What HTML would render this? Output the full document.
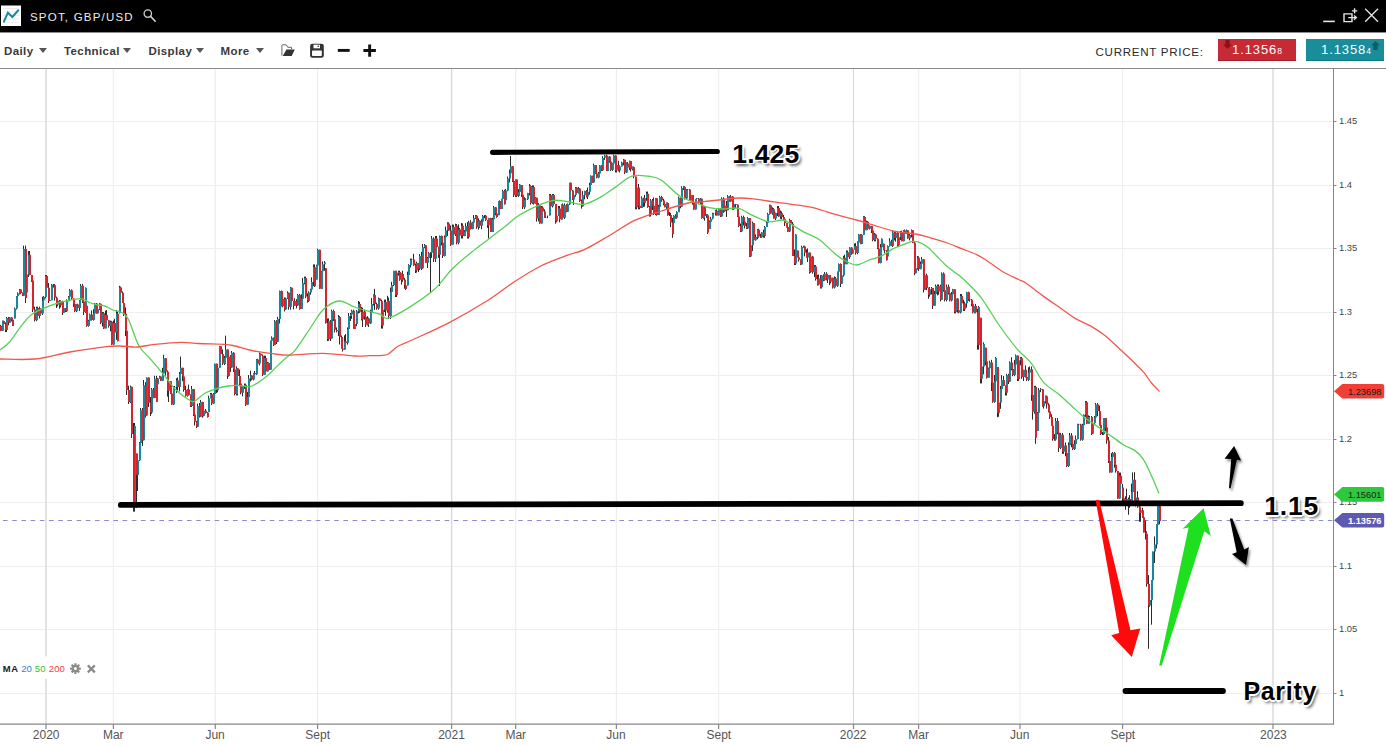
<!DOCTYPE html>
<html><head><meta charset="utf-8"><title>SPOT, GBP/USD</title>
<style>
html,body{margin:0;padding:0;background:#fff;}
body{width:1386px;height:746px;overflow:hidden;position:relative;font-family:"Liberation Sans",Arial,sans-serif;}
#top{position:absolute;left:0;top:0;width:1386px;height:32px;background:#000;}
#title{position:absolute;left:30px;top:9.6px;font-size:11.5px;letter-spacing:1.2px;color:#ececec;line-height:14px;white-space:nowrap;}
#tb{position:absolute;left:0;top:32px;width:1386px;height:35px;background:#fff;border-top:1px solid #8c8c8c;border-bottom:1px solid #8a8a8a;}
.mi{position:absolute;top:11px;font-size:11.5px;letter-spacing:0.4px;font-weight:bold;color:#3a3a3a;line-height:14px;white-space:nowrap;}
.tri{position:absolute;top:15px;width:0;height:0;border-left:4.5px solid transparent;border-right:4.5px solid transparent;border-top:5.5px solid #555;}
#cp{position:absolute;left:1095.5px;top:11.6px;font-size:11.6px;letter-spacing:0.7px;color:#2a2a2a;line-height:14px;white-space:nowrap;}
.pbox{position:absolute;top:6px;width:78px;height:22px;color:#fff;font-size:13px;letter-spacing:0.9px;line-height:22px;white-space:nowrap;}
.pbox small{font-size:8.5px;letter-spacing:0;}
#chart{position:absolute;left:0;top:0;}
</style></head><body>
<div id="top">
<svg width="1386" height="32" style="position:absolute;left:0;top:0">
<rect x="1" y="5.5" width="20" height="20.5" fill="#fff"/>
<g stroke="#ececec" stroke-width="1"><path d="M3 8.5H19M3 12H19M3 15.5H19M3 19H19M3 22.5H19"/></g>
<path d="M3.9 21.7L7.9 12.7L12.4 17L18.2 10.3" stroke="#16899a" stroke-width="2" fill="none" stroke-linecap="round" stroke-linejoin="miter"/>
<circle cx="147.8" cy="13.6" r="3.7" stroke="#d0d0d0" stroke-width="1.3" fill="none"/>
<path d="M150.6 16.4L155.2 21.2" stroke="#d0d0d0" stroke-width="1.6" stroke-linecap="round"/>
<path d="M1323.2 21.4H1334.8" stroke="#e6e6e6" stroke-width="1.6"/>
<path d="M1344 13.9H1352V21.6H1344Z" stroke="#e6e6e6" stroke-width="1.4" fill="none"/>
<path d="M1348.3 17.6H1356.2M1354 15.4L1356.4 17.6L1354 19.8" stroke="#e6e6e6" stroke-width="1.3" fill="none"/>
<path d="M1354.6 8.2V13.6M1351.9 10.9H1357.3" stroke="#e6e6e6" stroke-width="1.4"/>
<path d="M1365.2 8.7L1378 21.8M1378 8.7L1365.2 21.8" stroke="#e6e6e6" stroke-width="1.3"/>
</svg>
<div id="title">SPOT, GBP/USD</div>
</div>
<div id="tb">
<div class="mi" style="left:4px">Daily</div><div class="tri" style="left:38.5px"></div>
<div class="mi" style="left:64px">Technical</div><div class="tri" style="left:123.3px"></div>
<div class="mi" style="left:148.5px">Display</div><div class="tri" style="left:195.7px"></div>
<div class="mi" style="left:220.6px">More</div><div class="tri" style="left:255.5px"></div>
<svg width="110" height="36" style="position:absolute;left:275px;top:-1px">
<path d="M62.8 18.4H74.7" stroke="#111" stroke-width="2.9"/>
<path d="M88.4 18.5H100.9M94.65 12.5V24.8" stroke="#111" stroke-width="2.9"/>
</svg>
<div id="cp">CURRENT PRICE:</div>
<div class="pbox" style="left:1218px;background:#c52a35;border-bottom:1px solid #a81d27;height:21px">
<svg width="12" height="12" style="position:absolute;left:4px;top:1px"><path d="M3.3 0H7.7V4.5H10L5.5 9L1 4.5H3.3Z" fill="#8f1018"/></svg>
<span style="position:absolute;left:14px;top:0">1.1356<small>8</small></span></div>
<div class="pbox" style="left:1306px;background:#188e9a;border-bottom:1px solid #0e7a85;height:21px">
<svg width="12" height="12" style="position:absolute;left:64px;top:1.5px"><path d="M3.3 9H7.7V4.5H10L5.5 0L1 4.5H3.3Z" fill="#0b5f69"/></svg>
<span style="position:absolute;left:15px;top:0">1.1358<small>4</small></span></div>
</div>
<svg id="chart" width="1386" height="746" style="position:absolute;left:0;top:0;pointer-events:none" font-family="Liberation Sans, Arial, sans-serif">
<defs><clipPath id="cp1"><rect x="0" y="69" width="1333" height="655"/></clipPath></defs>
<g clip-path="url(#cp1)">
<g stroke="#eeeeee" stroke-width="1">
<path d="M0 121.5H1333M0 185.5H1333M0 248.5H1333M0 312.5H1333M0 375.5H1333M0 439.5H1333M0 502.5H1333M0 566.5H1333M0 629.5H1333M0 693.5H1333"/>
</g>
<g stroke="#eeeeee" stroke-width="1.2">
<path d="M113.4 69V724M215.3 69V724M317.6 69V724M515.7 69V724M616.4 69V724M718.6 69V724M918.6 69V724M1020 69V724M1122.6 69V724"/>
</g>
<g stroke="#d8d8d8">
<path d="M46 69V724" stroke-width="1.8" stroke="#e0e0e0"/><path d="M451.6 69V724" stroke-width="1.3"/><path d="M853.5 69V724" stroke-width="1.1"/><path d="M1273 69V724" stroke-width="1.8" stroke="#e2e2e2"/>
</g>
<path d="M3 520.5H1333" stroke="#8d8bd0" stroke-width="1" stroke-dasharray="4.6,4.6"/>
<path d="M0.5 324.9V331M2.5 320.6V331M3.5 320.6V324.4M5.5 322.5V332M6.5 317V332M8.5 317V325.3M9.5 317V322.9M11.5 317.3V321.4M12.5 317.9V326M14.5 307.6V318.4M16.5 296V309.5M17.5 292.4V298M19.5 289V294.5M20.5 289V294.2M22.5 292.5V296M23.5 245.7V296.1M25.5 245.7V303M26.5 269.8V292.6M28.5 251V277M29.5 251V275.2M31.5 274.9V281.8M32.5 279V312M34.5 306.7V321.5M36.5 306.7V321.1M37.5 306.7V316.4M39.5 306.7V318.4M40.5 308.5V315M42.5 296.8V315M43.5 296V300.7M45.5 275V298.4M46.5 275V290.5M48.5 283V303M49.5 299.1V301.1M51.5 284V300.2M53.5 284V287.5M54.5 284V300.6M56.5 296.6V308M57.5 300.7V306.5M59.5 300V308.8M60.5 300.4V307.4M62.5 300.7V315M63.5 305.2V312.9M65.5 308V312M66.5 299.4V312M68.5 296V301.2M69.5 289V297.1M71.5 289.4V300M73.5 298.5V306.9M74.5 303.1V312M76.5 304.2V312M77.5 303.7V309.6M79.5 300V311M80.5 284V303M82.5 284V303M83.5 297V315M85.5 287.5V312.8M86.5 305.7V326.7M88.5 319.8V326.7M89.5 313.6V321.2M91.5 310.4V320.6M93.5 309.2V320.6M94.5 303V314M96.5 303V313.6M97.5 306.9V313.6M99.5 303V310.2M100.5 303.8V324M102.5 312V326.5M103.5 312.1V329M105.5 310.7V328.4M106.5 310V323.3M108.5 320.2V327.6M110.5 320.6V331.3M111.5 320.9V345M113.5 320.6V345M114.5 318.8V332.9M116.5 310V339.8M117.5 311.7V341.5M119.5 285.8V313.3M120.5 286.6V295.3M122.5 291.5V303M123.5 300V316M125.5 307.4V336M126.5 330.8V395M128.5 385.7V404M130.5 385.6V403.1M131.5 386.8V438M133.5 423V511.6M134.5 423V511.6M136.5 453.6V508M137.5 458.5V491M139.5 442V461M140.5 408V446M142.5 408V446M143.5 380V440.2M145.5 382.2V417.6M146.5 377.5V415.5M148.5 377.5V407M150.5 397V416M151.5 388V413.9M153.5 388V398.2M154.5 375.8V398.2M156.5 375.8V402M157.5 377.9V384.1M159.5 375.8V378.7M160.5 376.5V381M162.5 367.8V380.8M163.5 354.8V375.9M165.5 358.3V375.6M167.5 370.5V396.6M168.5 376.5V402M170.5 381.3V394M171.5 390V405M173.5 386V405M174.5 386V389.2M176.5 378.3V393M177.5 377.4V390.5M179.5 372V391.4M180.5 356.6V377.5M182.5 367.8V381.2M183.5 375.8V391.7M185.5 385.8V396.7M187.5 388.9V396.7M188.5 384.6V395.2M190.5 394.4V407M191.5 386V407M193.5 389V416M194.5 410.8V425.5M196.5 420.9V428M197.5 403.6V426.8M199.5 403V417.6M200.5 400V417M202.5 401.7V417.6M203.5 410.2V416.4M205.5 409V413.6M207.5 412.2V417.6M208.5 395.7V412.2M210.5 393V398.3M211.5 393V405M213.5 393V403.9M214.5 363.6V394M216.5 363.6V393M217.5 366.7V392.3M219.5 346V367.8M220.5 346V355M222.5 349.4V365M224.5 355.9V365M225.5 335.7V363.6M227.5 349.4V379M228.5 354.8V376.7M230.5 355.2V371.9M231.5 351V367.7M233.5 352.2V372M234.5 366.4V395.4M236.5 366.4V395.4M237.5 368.3V395.4M239.5 369.6V386.3M240.5 382.8V394.3M242.5 385.8V396.3M244.5 383.6V388.8M245.5 383.6V406M247.5 391.9V404.7M248.5 375V399.6M250.5 370.7V381.4M251.5 375.1V380.4M253.5 372.9V380.4M254.5 371V375M256.5 359V375M257.5 358.8V365.4M259.5 352.5V365.4M260.5 353.7V356.2M262.5 354.6V376M264.5 355.7V374.7M265.5 355.7V371.8M267.5 362V371.4M268.5 362.4V370.7M270.5 340.7V369.8M271.5 336.4V341.4M273.5 337.6V346M274.5 320V345.1M276.5 320.1V344M277.5 316.9V341.9M279.5 290.5V323.6M281.5 290.5V306.3M282.5 297.5V307.4M284.5 297.5V311.5M285.5 297.5V309.7M287.5 291.3V299M288.5 292.6V309.7M290.5 287V309.7M291.5 287.7V304.3M293.5 300.9V309.3M294.5 298.3V305.8M296.5 299.2V308.4M297.5 294V305.9M299.5 294V309.7M301.5 294.3V308.9M302.5 277.9V302M304.5 276.6V284.3M305.5 276.6V298.1M307.5 293.3V302.7M308.5 291.3V302M310.5 288.8V294.7M311.5 277.3V289.5M313.5 264.4V286.1M314.5 264.4V287M316.5 264.7V279.6M317.5 248.7V265.5M319.5 249.7V289M321.5 270.8V289M322.5 261.6V277M324.5 261V270.8M325.5 268.2V323.6M327.5 318.5V341M328.5 318.4V340.8M330.5 320V341M331.5 309.7V338.4M333.5 309.7V321M334.5 313.7V332.4M336.5 327.4V332.4M338.5 315V336.2M339.5 316.1V344.5M341.5 335.5V348.6M342.5 344.1V351.5M344.5 335.3V349.7M345.5 334.1V344.6M347.5 327.4V344.6M348.5 313V335.3M350.5 313V321M351.5 309.7V318.9M353.5 309.7V329M354.5 322.1V329M356.5 310.1V326.2M358.5 301V313.5M359.5 301.8V312.9M361.5 307V320.4M362.5 307.7V327M364.5 309.7V319.7M365.5 316V327M367.5 316.2V325.5M368.5 317.6V327M370.5 309.7V324M371.5 298.1V318.4M373.5 294.3V305.5M374.5 288.8V309.9M376.5 302.6V309.7M378.5 297.5V309.7M379.5 298.6V302.7M381.5 299.6V328.6M382.5 304.8V328.6M384.5 299.6V312M385.5 299.6V315.8M387.5 295.8V312.6M388.5 297.5V319M390.5 287.6V319M391.5 281.8V297M393.5 270.7V286.1M395.5 270.7V297M396.5 270.7V297M398.5 270.7V275.7M399.5 270.7V280.8M401.5 273.4V284.6M402.5 270.7V281.8M404.5 277.8V288.7M405.5 284.3V290M407.5 271.6V285.6M408.5 264.2V275.5M410.5 258.6V267.5M411.5 258.6V263.1M413.5 253.8V265.8M415.5 263.5V273M416.5 261.7V272.6M418.5 262.9V272.1M419.5 254.1V270M421.5 251.9V270M422.5 244V268.7M424.5 244V248.2M425.5 245.3V262.8M427.5 257V268M428.5 252V258.6M430.5 252V292.8M431.5 236V257.9M433.5 237.3V262M435.5 236V262M436.5 236V248.7M438.5 246.6V257.8M439.5 235.5V286M441.5 235.5V245.4M442.5 239V258M444.5 235.5V256.5M445.5 226.5V237.5M447.5 222.3V236M448.5 222.3V230.8M450.5 225.5V245.9M452.5 224.5V244.7M453.5 224.7V236.7M455.5 223.7V236M456.5 224V244.4M458.5 224.4V244.4M459.5 227.9V238.6M461.5 223V238.5M462.5 223.4V238.5M464.5 230.1V236.2M465.5 223.2V234.9M467.5 222.1V238.5M468.5 220.8V238.5M470.5 220.2V229.6M472.5 221.8V229.3M473.5 215V224.8M475.5 215V219M476.5 215V228.8M478.5 218.3V229.6M479.5 220.5V227.9M481.5 219.3V229.2M482.5 215V222.9M484.5 215V218.2M485.5 215V220.9M487.5 220.1V227.8M488.5 217.8V238.5M490.5 217.8V232M492.5 217.8V232M493.5 206V219.3M495.5 207V215.3M496.5 210.6V217.8M498.5 201.1V215.2M499.5 200.3V209M501.5 198.7V209M502.5 189.8V201.5M504.5 189.8V204.6M505.5 188.9V200.2M507.5 176.5V191.3M509.5 169.6V182.4M510.5 155.9V177M512.5 166V182M513.5 179.5V197M515.5 179.5V197M516.5 179.5V197M518.5 189.1V197M519.5 184V194.6M521.5 185V196.9M522.5 194V209M524.5 197.2V209M525.5 198.2V200.2M527.5 192.8V200M529.5 184V195.5M530.5 185.4V204.6M532.5 185.4V203.9M533.5 185.4V204.6M535.5 197.1V203.8M536.5 197.8V221.6M538.5 203V221.4M539.5 205.3V223.7M541.5 206V223.6M542.5 206.3V214.3M544.5 209.3V217.8M545.5 216.3V217.9M547.5 215.6V218.2M549.5 194V215.6M550.5 194V207.5M552.5 194V207.5M553.5 194V205.5M555.5 204.1V223.7M556.5 215.5V222.3M558.5 206V215.9M559.5 206V222.3M561.5 204.5V219.6M562.5 203.4V219.6M564.5 203.4V219.1M566.5 204.2V212.3M567.5 203.4V211.8M569.5 182.8V205M570.5 182.8V193.7M572.5 190V200M573.5 192.6V205M575.5 187V196.7M576.5 187V193.3M578.5 187V193.6M579.5 188V202M581.5 199.5V208.6M582.5 191V206.8M584.5 190.7V199.4M586.5 190V197.4M587.5 187.6V199M589.5 182.8V194.6M590.5 175.4V185M592.5 175.8V182.8M593.5 163.6V182.8M595.5 165V174.1M596.5 171.1V178.3M598.5 172V178.3M599.5 165V176M601.5 165.1V171M602.5 156.2V171M604.5 154.7V159.9M606.5 154.7V171M607.5 156V171M609.5 156V162.8M610.5 159.7V171M612.5 162.9V171M613.5 154.7V165M615.5 155.3V172.4M616.5 162.7V172.4M618.5 160.8V171.4M619.5 166.3V172.4M621.5 161.7V166.4M623.5 159V165.3M624.5 159.7V174M626.5 162.4V173M627.5 162V167.9M629.5 160.6V170M630.5 160.9V171.6M632.5 166.5V170.4M633.5 166.5V178.3M635.5 176.6V209.3M636.5 184V209.3M638.5 184V209.3M639.5 201.7V209.3M641.5 196.4V208M643.5 197.6V207M644.5 194.9V206.6M646.5 191.6V200.8M647.5 191.6V207.8M649.5 206V216.7M650.5 199.1V216.4M652.5 199V210M653.5 197.5V215M655.5 198V215.1M656.5 198V215.7M658.5 204.8V215.1M659.5 195.8V208.3M661.5 195.8V201.8M663.5 198.8V205.3M664.5 202.3V207.3M666.5 202.4V208.9M667.5 202.4V215.7M669.5 212.1V216M670.5 212.8V227.1M672.5 217.9V237.8M673.5 215.2V223.1M675.5 214.3V218.7M676.5 211.3V218.7M678.5 196.5V212.1M680.5 197.7V208.3M681.5 186.2V206.8M683.5 186.2V190.1M684.5 186.2V199.5M686.5 189V199.7M687.5 189V191.9M689.5 189V201M690.5 194.8V201M692.5 195.1V204.6M693.5 200.9V209.8M695.5 198.9V209.6M696.5 198V201.2M698.5 198V204.1M700.5 198V204.3M701.5 198.7V218.7M703.5 205.4V218.7M704.5 206.1V220.7M706.5 214.2V217.9M707.5 214.2V234M709.5 220.4V229.1M710.5 216.9V223M712.5 212.8V219.4M713.5 212.8V214.8M715.5 209.9V215.5M716.5 209.3V215.5M718.5 208.3V215.5M720.5 208.3V217M721.5 197.3V216.6M723.5 197.3V212.8M724.5 205V211.9M726.5 201V217M727.5 195V210.2M729.5 196V201.5M730.5 195V202.1M732.5 196.2V209.8M733.5 202.2V209.8M735.5 203.9V208M737.5 204.5V217M738.5 215.7V227.2M740.5 223.5V232M741.5 215.7V232M743.5 215.7V225.4M744.5 220.3V228.4M746.5 223.1V229M747.5 217V229M749.5 218V257M750.5 242.1V257M752.5 221.6V251.1M753.5 222.9V240.8M755.5 234.4V240.6M757.5 229V239.2M758.5 228.7V237.8M760.5 233.7V237.8M761.5 232V237.8M763.5 229.7V237.6M764.5 226V237.8M766.5 221.3V227.1M767.5 212.8V224.1M769.5 204.7V214.7M770.5 204.7V213.9M772.5 207.3V214.8M773.5 208.1V218.7M775.5 212.6V220M777.5 206V216.1M778.5 206V216.9M780.5 210.5V218.8M781.5 211.4V219.4M783.5 214.9V220M784.5 218.9V226M786.5 222.8V227.5M787.5 225.9V232M789.5 218.7V232M790.5 220V227.4M792.5 222V256M794.5 249.4V265M795.5 234V265M797.5 250.6V257.4M798.5 256V261.6M800.5 259.5V265M801.5 245.7V264.6M803.5 245.7V247.7M804.5 245.7V256.3M806.5 249.4V257.5M807.5 248.5V262M809.5 252.5V273.7M810.5 256V272.9M812.5 256V273.7M814.5 265V277.1M815.5 265V280.6M817.5 274.9V285.5M818.5 274.5V285.3M820.5 275.2V288.5M821.5 275V288.5M823.5 274.3V281.2M824.5 272V280.8M826.5 272.2V280.4M827.5 275V283M829.5 275V285.1M830.5 277.3V283.4M832.5 277.7V288.5M834.5 276.4V288.5M835.5 277.1V286.5M837.5 271.6V287M838.5 263.4V276.8M840.5 263.4V287M841.5 274.6V283.7M843.5 255.9V276.7M844.5 254.6V267.4M846.5 250.4V264.3M847.5 250.7V259M849.5 247.2V259M851.5 247.2V254.8M852.5 249.2V253.6M854.5 243.5V249.5M855.5 243.1V254.6M857.5 241.3V254.3M858.5 234V244.2M860.5 234V244.2M861.5 234V244.2M863.5 216.2V234.8M864.5 216.2V232.4M866.5 220.6V230.2M867.5 221V229.5M869.5 225.4V229.5M871.5 226V233M872.5 229.1V241.3M874.5 232.9V241.3M875.5 233.7V241.3M877.5 238.3V249.1M878.5 245V263.4M880.5 244.1V263.4M881.5 238.3V250.9M883.5 243.7V250.3M884.5 250V253.1M886.5 250V260.5M887.5 245.4V256.6M889.5 238.2V246.6M891.5 239.8V246.1M892.5 231V247M894.5 231V240.4M895.5 231V241.6M897.5 231.7V247M898.5 234.5V247M900.5 231V240.1M901.5 230.7V241.3M903.5 230.1V241.3M904.5 229.5V234.5M906.5 229.5V234.1M907.5 230.2V238.7M909.5 234V240.4M911.5 229.5V237.4M912.5 230.2V242.9M914.5 241.4V275.2M915.5 268.1V273.3M917.5 256V269.7M918.5 256.4V271M920.5 261.5V269.4M921.5 257.1V264M923.5 259.3V292.4M924.5 273.7V290.1M926.5 273.7V290M928.5 287.6V298.8M929.5 287V296.6M931.5 287V294.5M932.5 287.9V309M934.5 290.8V305.7M935.5 284.5V295.6M937.5 284.5V295.4M938.5 284.5V294.7M940.5 284.7V301.4M941.5 272.4V299.8M943.5 272.4V291.7M944.5 289.3V301.4M946.5 284.5V301.4M948.5 284.5V294.6M949.5 292V301.4M951.5 292V301.4M952.5 288.9V295.1M954.5 289.2V313.4M955.5 296.4V313.4M957.5 298.2V312.6M958.5 309.5V313.4M960.5 294V313.4M961.5 294V306.5M963.5 299.8V311M964.5 301.7V311M966.5 291.7V307.6M968.5 291.7V300.8M969.5 299V301.7M971.5 299V306.3M972.5 302.3V313.4M974.5 306V313.4M975.5 304V313.4M977.5 308.7V349.7M978.5 306V349.7M980.5 317.8V383.4M981.5 359.7V383.4M983.5 342.4V374.3M985.5 347.7V365.3M986.5 359.3V378.6M988.5 367.6V377.8M989.5 360.7V373M991.5 359.8V391.1M992.5 381.7V402.8M994.5 375V402.8M995.5 357V389.8M997.5 367.1V417.2M998.5 394.9V416.8M1000.5 385.9V408.8M1001.5 375.1V389.5M1003.5 376V386.2M1005.5 385.5V395.5M1006.5 373.8V395.5M1008.5 373.8V384M1009.5 361.3V381.6M1011.5 357.2V370.3M1012.5 364.4V376.2M1014.5 359.9V376.2M1015.5 354.5V369.2M1017.5 355.6V381M1018.5 357V381M1020.5 357.1V365.4M1021.5 357V378.8M1023.5 369.8V381M1025.5 365.4V377.6M1026.5 375V381M1028.5 367.3V381M1029.5 366.5V379.3M1031.5 366.5V400.8M1032.5 390.8V419.6M1034.5 385.9V413.7M1035.5 385.9V443.8M1037.5 412V430.9M1038.5 388V414.2M1040.5 388V392.2M1042.5 388.9V406.6M1043.5 399.5V408.6M1045.5 395.5V403.5M1046.5 395.5V408.6M1048.5 403.1V412.4M1049.5 407V418.9M1051.5 414.2V425.7M1052.5 424.2V440.7M1054.5 434.1V440.7M1055.5 418V440.7M1057.5 418V434.3M1058.5 423.8V452M1060.5 433V449.1M1062.5 433V453.8M1063.5 442.4V453.8M1065.5 442.5V456.3M1066.5 447.4V467M1068.5 442.5V467M1069.5 433V447.4M1071.5 433.1V447.3M1072.5 441.1V450M1074.5 440.3V450M1075.5 435.5V444.6M1077.5 423.8V439.4M1078.5 423.8V425.6M1080.5 423.8V440.7M1082.5 423.8V440.7M1083.5 414.4V427.5M1085.5 401V416.9M1086.5 401.1V423.8M1088.5 415.3V423.8M1089.5 416V420.9M1091.5 416V435M1092.5 421.3V434M1094.5 416V424.4M1095.5 403V422.1M1097.5 403V416.2M1099.5 405.5V425.7M1100.5 424.7V435M1102.5 431.9V435.1M1103.5 418V435M1105.5 418V431M1106.5 427.4V443.7M1108.5 437V463M1109.5 457.5V472.6M1111.5 453.1V472.6M1112.5 452V457.5M1114.5 452V467.7M1115.5 461.1V472.6M1117.5 471V498.8M1119.5 472.6V498.8M1120.5 472.6V483.7M1122.5 483.9V502.7M1123.5 491.2V503.3M1125.5 496.3V509.7M1126.5 488.7V505.2M1128.5 497.6V514.8M1129.5 495.1V507.8M1131.5 483.6V502.7M1132.5 472.4V492.5M1134.5 472.2V505.2M1135.5 495.1V506.5M1137.5 491.2V507.8M1139.5 505.2V521.7M1140.5 507.8V521.7M1142.5 507.8V517.9M1143.5 514.1V532.5M1145.5 520.5V539.5M1146.5 531.3V586.6M1148.5 575.1V648.8M1149.5 586.6V606.9M1151.5 580.2V624.7M1152.5 551.6V586.6M1154.5 536.4V563M1156.5 524.3V548.4M1157.5 503.2V530.6M1159.5 504V524.3" stroke="#2b2b2b" stroke-width="1" fill="none"/>
<path d="M2 321h2v9.7h-2zM6 318.1h2v12h-2zM9 317.5h2v5.2h-2zM14 308.6h2v9.8h-2zM16 296.3h2v12.3h-2zM17 293.6h2v2.7h-2zM19 289.5h2v4.1h-2zM23 249.1h2v46.7h-2zM26 274.4h2v18.2h-2zM28 254.8h2v19.6h-2zM36 307.9h2v12.3h-2zM39 308.6h2v7.5h-2zM42 300.4h2v13.2h-2zM43 296.9h2v3.4h-2zM45 276.1h2v20.8h-2zM49 300.1h2v0.8h-2zM51 284.8h2v15.4h-2zM57 300.8h2v4h-2zM60 301.2h2v4.1h-2zM63 308.1h2v4.8h-2zM66 301.2h2v10h-2zM68 296.8h2v4.5h-2zM69 290.2h2v6.5h-2zM76 304.5h2v6.7h-2zM79 300.3h2v7.8h-2zM80 285.8h2v14.5h-2zM85 287.7h2v24.2h-2zM88 320.7h2v5.4h-2zM89 314.4h2v6.3h-2zM93 313.6h2v6.5h-2zM94 303.4h2v10.2h-2zM97 309.3h2v3.9h-2zM99 303.8h2v5.4h-2zM102 313.3h2v9.5h-2zM105 314.9h2v13.5h-2zM110 321.8h2v4.2h-2zM113 323.1h2v21.5h-2zM116 313.7h2v18.9h-2zM119 287.6h2v25.7h-2zM130 386.8h2v15.4h-2zM134 425.9h2v81.5h-2zM137 460.3h2v14.7h-2zM139 443h2v17.2h-2zM140 410.2h2v32.8h-2zM143 385.3h2v54.9h-2zM146 377.5h2v38h-2zM151 389.6h2v23h-2zM154 378.8h2v19.2h-2zM157 378.4h2v5.8h-2zM159 376.5h2v1.8h-2zM162 373.5h2v7.3h-2zM163 358.3h2v15.3h-2zM168 381.3h2v9.4h-2zM173 387.6h2v16.9h-2zM174 386.9h2v0.6h-2zM176 380.6h2v6.3h-2zM179 374.1h2v12.9h-2zM180 367.8h2v6.3h-2zM187 389.4h2v6.3h-2zM191 388.9h2v17.1h-2zM197 406h2v20.8h-2zM200 402.1h2v14.6h-2zM203 410.4h2v5.7h-2zM208 398.2h2v14h-2zM210 394.3h2v3.9h-2zM213 394h2v9.4h-2zM214 363.7h2v30.3h-2zM217 367.8h2v22.5h-2zM219 346.3h2v21.5h-2zM224 357.8h2v5.7h-2zM225 349.4h2v8.4h-2zM228 356.7h2v19.2h-2zM231 352.8h2v14.7h-2zM236 368.3h2v25.8h-2zM242 386h2v6.7h-2zM244 384.7h2v1.3h-2zM247 396.9h2v7.8h-2zM248 378.6h2v18.3h-2zM250 375.4h2v3.2h-2zM253 373.1h2v6.5h-2zM256 359.4h2v14.8h-2zM259 353.7h2v9.9h-2zM264 358.1h2v16.6h-2zM267 363.1h2v8.3h-2zM270 340.8h2v29h-2zM271 337.7h2v3.1h-2zM274 321.3h2v23.8h-2zM277 318.9h2v22.9h-2zM279 291h2v28h-2zM282 298.9h2v7.3h-2zM285 298.6h2v10.9h-2zM287 292.7h2v5.9h-2zM290 287.7h2v19.4h-2zM294 301.1h2v4.7h-2zM297 295.1h2v10.4h-2zM301 298.8h2v10.1h-2zM302 282.9h2v15.9h-2zM304 277.9h2v5h-2zM308 292.4h2v8.7h-2zM310 289.5h2v2.9h-2zM311 282h2v7.5h-2zM313 267.3h2v14.7h-2zM316 265.4h2v14.2h-2zM317 249.7h2v15.7h-2zM321 271.3h2v17.6h-2zM322 264.2h2v7.1h-2zM324 262.4h2v1.8h-2zM328 321.2h2v18h-2zM331 311.1h2v27.3h-2zM338 316.9h2v14.4h-2zM344 341.6h2v8.1h-2zM347 329h2v14h-2zM348 316h2v13h-2zM350 314.6h2v1.4h-2zM351 310.7h2v3.9h-2zM354 324h2v4.9h-2zM356 311.2h2v12.7h-2zM358 303.9h2v7.3h-2zM362 311.5h2v7.8h-2zM367 318.4h2v6.4h-2zM370 312.9h2v10.7h-2zM371 304h2v8.9h-2zM373 295.1h2v8.9h-2zM378 298.6h2v9.9h-2zM382 309.7h2v15.7h-2zM384 301.9h2v7.8h-2zM387 300.7h2v9.9h-2zM390 292h2v24.1h-2zM391 285h2v7h-2zM393 270.9h2v14.1h-2zM396 272.8h2v22.1h-2zM398 272h2v0.8h-2zM401 274h2v5.8h-2zM407 274.9h2v10.7h-2zM408 265.1h2v9.8h-2zM410 260.1h2v5.1h-2zM411 259.4h2v0.6h-2zM416 262.9h2v7.7h-2zM419 256.1h2v12.6h-2zM422 247.3h2v21h-2zM424 245.3h2v2h-2zM427 258h2v4.8h-2zM428 253.2h2v4.8h-2zM430 252.8h2v0.4h-2zM431 238.6h2v14.2h-2zM435 238.5h2v20.2h-2zM439 236h2v18.8h-2zM444 237.3h2v18.8h-2zM445 230.2h2v7.1h-2zM447 223.5h2v6.7h-2zM452 226.9h2v17.8h-2zM455 225.4h2v9.1h-2zM458 229.4h2v13.4h-2zM461 225.8h2v9.8h-2zM464 231.4h2v4.7h-2zM465 226.1h2v5.3h-2zM468 222.6h2v14.4h-2zM472 222.4h2v6.7h-2zM473 218.1h2v4.4h-2zM475 215.7h2v2.3h-2zM478 220.7h2v6.6h-2zM481 221.4h2v4.4h-2zM482 216h2v5.5h-2zM484 215.7h2v0.2h-2zM488 218.1h2v7.2h-2zM492 219.3h2v12.7h-2zM493 207.3h2v12h-2zM498 201.1h2v14.1h-2zM501 199h2v9.9h-2zM502 191.1h2v7.9h-2zM505 190.4h2v9.8h-2zM507 178.6h2v11.8h-2zM509 173.3h2v5.3h-2zM510 166.3h2v7h-2zM515 179.5h2v15.7h-2zM518 192h2v3.9h-2zM519 184.5h2v7.4h-2zM524 199.5h2v7.7h-2zM525 199.2h2v0.3h-2zM527 193.1h2v6.1h-2zM529 185.9h2v7.3h-2zM532 187.1h2v15.9h-2zM535 197.8h2v5.8h-2zM538 205.4h2v12.9h-2zM541 207.5h2v16.1h-2zM549 195.1h2v20.5h-2zM552 195.1h2v11.1h-2zM556 215.7h2v5.5h-2zM558 208.4h2v7.3h-2zM561 204.7h2v14.5h-2zM564 205.2h2v12.5h-2zM567 204.2h2v7.6h-2zM569 182.8h2v21.4h-2zM573 194.9h2v4.5h-2zM575 187.8h2v7.2h-2zM578 188.6h2v4.5h-2zM582 195.2h2v11h-2zM584 190.9h2v4.3h-2zM587 191.7h2v4.9h-2zM589 185h2v6.7h-2zM590 175.8h2v9.2h-2zM593 165.1h2v17.3h-2zM598 173.6h2v4h-2zM599 165.4h2v8.2h-2zM602 157.9h2v12.3h-2zM604 155.5h2v2.3h-2zM607 156.4h2v14.5h-2zM612 163.3h2v6.5h-2zM613 155.6h2v7.8h-2zM616 165.1h2v5.3h-2zM619 166.4h2v4h-2zM621 162.4h2v4h-2zM623 159.7h2v2.7h-2zM626 163.4h2v9.2h-2zM629 160.9h2v6.6h-2zM632 167.1h2v2.1h-2zM636 187.5h2v19.7h-2zM641 198.2h2v9.8h-2zM644 198.2h2v4.9h-2zM646 193.7h2v4.4h-2zM650 200.4h2v14.6h-2zM655 198.3h2v15.4h-2zM658 206.7h2v8.3h-2zM659 197.1h2v9.6h-2zM666 202.9h2v4.4h-2zM669 215h2v0.1h-2zM673 215.8h2v7.3h-2zM676 212.1h2v5.6h-2zM678 197.8h2v14.4h-2zM681 188.1h2v18.6h-2zM683 186.9h2v1.3h-2zM686 189.7h2v8.9h-2zM687 189.6h2v0.1h-2zM690 195.1h2v5.6h-2zM695 198.9h2v10.5h-2zM696 198.6h2v0.4h-2zM700 198.7h2v3.8h-2zM703 206.1h2v11.9h-2zM706 215.2h2v0.7h-2zM709 221.7h2v7.4h-2zM710 218.7h2v3.1h-2zM712 213.4h2v5.2h-2zM713 213.3h2v0.1h-2zM715 210.7h2v2.6h-2zM718 208.7h2v6.7h-2zM721 198.5h2v18.1h-2zM724 205.4h2v5.9h-2zM727 196.2h2v14.1h-2zM730 196.6h2v4.8h-2zM733 203.9h2v5.3h-2zM741 216.9h2v14.3h-2zM747 218h2v10.4h-2zM750 245.2h2v11.4h-2zM752 222.9h2v22.4h-2zM755 236.9h2v3.3h-2zM757 229.8h2v7.1h-2zM761 232.4h2v4.8h-2zM764 227.1h2v8.8h-2zM766 223.1h2v4h-2zM767 214.1h2v9h-2zM769 205.5h2v8.6h-2zM772 209.2h2v4.3h-2zM775 213h2v5.6h-2zM777 207.9h2v5.1h-2zM780 212.9h2v3.6h-2zM789 220h2v11.6h-2zM795 234.5h2v28.9h-2zM801 247h2v17.6h-2zM803 246.5h2v0.5h-2zM807 252.5h2v4.9h-2zM810 256.5h2v15.7h-2zM814 266.6h2v5.7h-2zM818 278.4h2v6.1h-2zM821 275.4h2v11.9h-2zM824 273.7h2v6.6h-2zM827 275.1h2v4.5h-2zM830 277.7h2v4.1h-2zM834 278.6h2v8.8h-2zM837 271.8h2v13.9h-2zM838 264.1h2v7.7h-2zM841 275.6h2v8.1h-2zM843 257.7h2v17.9h-2zM846 252.2h2v12.1h-2zM849 247.5h2v9.8h-2zM852 249.5h2v4h-2zM854 245.9h2v3.6h-2zM857 242.6h2v10.3h-2zM858 234.5h2v8.1h-2zM861 234.8h2v9.1h-2zM863 217h2v17.8h-2zM866 221.7h2v8.5h-2zM869 226h2v2.7h-2zM874 234.4h2v5.4h-2zM880 247.2h2v15.8h-2zM881 238.7h2v8.5h-2zM887 246.1h2v10.5h-2zM889 241.3h2v4.8h-2zM892 232.4h2v13.6h-2zM895 233.1h2v4.8h-2zM898 237.2h2v8h-2zM900 232.4h2v4.8h-2zM903 230.4h2v10.8h-2zM906 230.3h2v3.5h-2zM909 234.9h2v3.5h-2zM911 230.2h2v4.7h-2zM915 268.2h2v5.1h-2zM917 257.8h2v10.4h-2zM920 263.8h2v5.3h-2zM921 259.3h2v4.5h-2zM924 275.2h2v14.9h-2zM929 289.2h2v5.9h-2zM931 288.1h2v1.1h-2zM934 294.1h2v11.7h-2zM935 285.9h2v8.2h-2zM938 286.2h2v5.2h-2zM941 273.6h2v26.2h-2zM946 286.7h2v13.3h-2zM951 294.3h2v6.3h-2zM952 289.2h2v5.1h-2zM955 298.5h2v13.4h-2zM960 296h2v16.4h-2zM964 303.4h2v5.8h-2zM966 292.2h2v11.1h-2zM974 306h2v6.7h-2zM978 307h2v37.9h-2zM981 366.5h2v12.3h-2zM983 344h2v22.5h-2zM988 368.2h2v9.6h-2zM989 362.4h2v5.8h-2zM994 381.4h2v20.5h-2zM995 358h2v23.3h-2zM998 402.6h2v10.3h-2zM1000 388.9h2v13.7h-2zM1001 380h2v8.9h-2zM1006 375.1h2v17.6h-2zM1009 362.6h2v19.1h-2zM1014 364.4h2v10.7h-2zM1015 355.6h2v8.8h-2zM1018 360.2h2v18.7h-2zM1020 358.2h2v2h-2zM1023 369.8h2v7.2h-2zM1028 372.6h2v7.2h-2zM1029 369.2h2v3.4h-2zM1034 386.9h2v24.8h-2zM1037 412.8h2v18.1h-2zM1038 390.1h2v22.6h-2zM1040 389.3h2v0.8h-2zM1043 401.2h2v5.1h-2zM1045 396.3h2v4.9h-2zM1055 421.1h2v18.5h-2zM1060 434.8h2v13h-2zM1063 445.6h2v6.2h-2zM1068 445.2h2v20.9h-2zM1069 435.4h2v9.8h-2zM1074 444.1h2v4.8h-2zM1075 439h2v5.1h-2zM1077 424.2h2v14.8h-2zM1082 425.2h2v14.5h-2zM1083 414.7h2v10.5h-2zM1085 402.3h2v12.4h-2zM1088 416.9h2v6.8h-2zM1092 423h2v10.8h-2zM1094 417.5h2v5.5h-2zM1095 404.4h2v13.1h-2zM1102 434.1h2v0h-2zM1103 418.1h2v16.1h-2zM1111 457.1h2v15.4h-2zM1112 453h2v4.1h-2zM1119 475.8h2v22.8h-2zM1125 498.9h2v3.8h-2zM1128 498.9h2v1.9h-2zM1131 491.9h2v10.2h-2zM1132 479.8h2v12.1h-2zM1135 497.6h2v5.1h-2zM1140 510.3h2v2.5h-2zM1149 599.9h2v5.7h-2zM1151 580.2h2v19.7h-2zM1152 551.6h2v28.6h-2zM1154 544.6h2v7h-2zM1156 524.9h2v19.7h-2zM1157 505.9h2v19.1h-2z" fill="#17889a"/>
<path d="M0 325.8h2v4.9h-2zM3 321h2v3.1h-2zM5 324.1h2v6h-2zM8 318.1h2v4.5h-2zM11 317.5h2v2.3h-2zM12 319.8h2v6.1h-2zM20 289.5h2v3.6h-2zM22 293.1h2v2.7h-2zM25 249.1h2v48.8h-2zM29 254.8h2v20.1h-2zM31 274.9h2v5.7h-2zM32 280.6h2v28.8h-2zM34 309.4h2v10.8h-2zM37 307.9h2v8.2h-2zM40 308.6h2v5h-2zM46 276.1h2v11.7h-2zM48 287.8h2v13.2h-2zM53 284.8h2v0.4h-2zM54 285.2h2v12.6h-2zM56 297.8h2v7h-2zM59 300.8h2v4.5h-2zM62 301.2h2v11.7h-2zM65 308.1h2v3.1h-2zM71 290.2h2v8.3h-2zM73 298.5h2v5.4h-2zM74 303.9h2v7.3h-2zM77 304.5h2v3.6h-2zM82 285.8h2v15.6h-2zM83 301.4h2v10.5h-2zM86 305.7h2v20.4h-2zM91 314.4h2v5.7h-2zM96 303.4h2v9.9h-2zM100 303.8h2v19h-2zM103 313.3h2v15.2h-2zM106 314.9h2v5.3h-2zM108 320.2h2v5.8h-2zM111 321.8h2v22.8h-2zM114 323.1h2v9.4h-2zM117 313.7h2v27.2h-2zM120 287.6h2v5.2h-2zM122 292.8h2v10.2h-2zM123 303h2v10.8h-2zM125 313.8h2v17h-2zM126 330.8h2v59.1h-2zM128 389.9h2v12.2h-2zM131 386.8h2v47.2h-2zM133 433.9h2v73.5h-2zM136 453.6h2v21.4h-2zM142 410.2h2v30.4h-2zM145 385.3h2v30.2h-2zM148 377.5h2v25.2h-2zM150 402.7h2v9.8h-2zM153 389.6h2v8.4h-2zM156 378.8h2v22.9h-2zM160 376.5h2v4.2h-2zM165 358.3h2v13.4h-2zM167 371.7h2v19.1h-2zM170 381.3h2v12.3h-2zM171 393.6h2v10.8h-2zM177 380.6h2v6.3h-2zM182 367.8h2v8.7h-2zM183 376.6h2v13.4h-2zM185 390h2v5.7h-2zM188 389.4h2v5.6h-2zM190 395h2v11h-2zM193 389h2v25.5h-2zM194 414.4h2v7.3h-2zM196 421.8h2v5h-2zM199 406h2v10.8h-2zM202 402.1h2v13.9h-2zM205 410.4h2v2.6h-2zM207 413h2v3.9h-2zM211 394.3h2v9.1h-2zM216 363.7h2v26.6h-2zM220 346.3h2v7.8h-2zM222 354.1h2v9.4h-2zM227 349.4h2v26.5h-2zM230 356.7h2v10.8h-2zM233 352.8h2v16.6h-2zM234 369.4h2v24.7h-2zM237 368.3h2v7.7h-2zM239 376h2v7.4h-2zM240 383.4h2v9.3h-2zM245 384.7h2v20h-2zM251 375.4h2v4.1h-2zM254 373.1h2v1.1h-2zM257 359.4h2v4.3h-2zM260 353.7h2v1.9h-2zM262 355.7h2v19.1h-2zM265 358.1h2v13.3h-2zM268 363.1h2v6.8h-2zM273 337.7h2v7.4h-2zM276 321.3h2v20.6h-2zM281 291h2v15.2h-2zM284 298.9h2v10.7h-2zM288 292.7h2v14.4h-2zM291 287.7h2v13.4h-2zM293 301.1h2v4.7h-2zM296 301.1h2v4.4h-2zM299 295.1h2v13.8h-2zM305 277.9h2v18.7h-2zM307 296.6h2v4.6h-2zM314 267.3h2v19h-2zM319 249.7h2v39.1h-2zM325 268.2h2v54.8h-2zM327 323h2v16.1h-2zM330 321.2h2v17.2h-2zM333 311.1h2v8.1h-2zM334 319.2h2v10.6h-2zM336 329.9h2v1.4h-2zM339 316.9h2v20.1h-2zM341 337h2v11.5h-2zM342 348.6h2v1.1h-2zM345 341.6h2v1.4h-2zM353 310.7h2v18.3h-2zM359 303.9h2v7.9h-2zM361 311.9h2v7.4h-2zM364 311.5h2v5.2h-2zM365 316.7h2v8.1h-2zM368 318.4h2v5.2h-2zM374 295.1h2v8.9h-2zM376 304h2v4.5h-2zM379 298.6h2v2.4h-2zM381 301.1h2v24.4h-2zM385 301.9h2v8.7h-2zM388 300.7h2v15.3h-2zM395 270.9h2v24.1h-2zM399 272h2v7.8h-2zM402 274h2v5.8h-2zM404 279.8h2v5.5h-2zM405 285.4h2v3.7h-2zM413 259.4h2v5.8h-2zM415 265.2h2v5.4h-2zM418 262.9h2v5.8h-2zM421 256.1h2v12.3h-2zM425 245.3h2v17.5h-2zM433 238.6h2v20.1h-2zM436 238.5h2v8.4h-2zM438 246.9h2v7.8h-2zM441 236h2v6.8h-2zM442 242.7h2v13.4h-2zM448 223.5h2v7.1h-2zM450 230.6h2v14.1h-2zM453 226.9h2v7.6h-2zM456 225.4h2v17.4h-2zM459 229.4h2v6.2h-2zM462 225.8h2v10.3h-2zM467 226.1h2v11h-2zM470 222.6h2v6.5h-2zM476 215.7h2v11.6h-2zM479 220.7h2v5.1h-2zM485 215.7h2v4.4h-2zM487 220.1h2v5.2h-2zM490 218.1h2v13.9h-2zM495 207.3h2v6.2h-2zM496 213.5h2v3.5h-2zM499 201.1h2v7.8h-2zM504 191.1h2v13.2h-2zM512 166.3h2v14.7h-2zM513 181h2v14.2h-2zM516 179.5h2v16.4h-2zM521 185h2v9.8h-2zM522 194.8h2v12.4h-2zM530 185.9h2v17.1h-2zM533 187.1h2v16.5h-2zM536 197.8h2v20.6h-2zM539 205.4h2v18.2h-2zM542 207.5h2v4h-2zM544 211.5h2v5.3h-2zM545 216.9h2v0.4h-2zM547 217.2h2v0h-2zM550 195.1h2v11.2h-2zM553 195.1h2v9h-2zM555 204.1h2v17h-2zM559 208.4h2v10.8h-2zM562 204.7h2v13.1h-2zM566 205.2h2v6.6h-2zM570 182.8h2v7.7h-2zM572 190.5h2v8.9h-2zM576 187.8h2v5.3h-2zM579 188.6h2v12.5h-2zM581 201.1h2v5.2h-2zM586 190.9h2v5.6h-2zM592 175.8h2v6.6h-2zM595 165.1h2v8.5h-2zM596 173.6h2v4h-2zM601 165.4h2v4.8h-2zM606 155.5h2v15.4h-2zM609 156.4h2v5h-2zM610 161.4h2v8.5h-2zM615 155.6h2v14.9h-2zM618 165.1h2v5.3h-2zM624 159.7h2v12.9h-2zM627 163.4h2v4.1h-2zM630 160.9h2v8.3h-2zM633 167.1h2v9.5h-2zM635 176.6h2v30.5h-2zM638 187.5h2v18.2h-2zM639 205.7h2v2.4h-2zM643 198.2h2v4.9h-2zM647 193.7h2v13.4h-2zM649 207.1h2v7.9h-2zM652 200.4h2v5.3h-2zM653 205.7h2v8h-2zM656 198.3h2v16.7h-2zM661 197.1h2v3.2h-2zM663 200.4h2v3.8h-2zM664 204.1h2v3.2h-2zM667 202.9h2v12.3h-2zM670 215h2v7.5h-2zM672 222.5h2v11.7h-2zM675 215.8h2v1.9h-2zM680 197.8h2v9h-2zM684 186.9h2v11.7h-2zM689 189.6h2v11.1h-2zM692 195.1h2v7h-2zM693 202.1h2v7.3h-2zM698 198.6h2v3.9h-2zM701 198.7h2v19.3h-2zM704 206.1h2v9.8h-2zM707 215.2h2v17.2h-2zM716 210.7h2v4.7h-2zM720 208.7h2v7.9h-2zM723 198.5h2v12.8h-2zM726 205.4h2v4.8h-2zM729 196.2h2v5.2h-2zM732 196.6h2v12.6h-2zM735 203.9h2v0.8h-2zM737 204.7h2v11.9h-2zM738 216.5h2v9.4h-2zM740 225.9h2v5.3h-2zM743 216.9h2v4.9h-2zM744 221.8h2v4.2h-2zM746 226h2v2.4h-2zM749 218h2v38.6h-2zM753 222.9h2v17.3h-2zM758 229.8h2v6.7h-2zM760 236.5h2v0.7h-2zM763 232.4h2v3.5h-2zM770 205.5h2v8h-2zM773 209.2h2v9.3h-2zM778 207.9h2v8.6h-2zM781 212.9h2v4.2h-2zM783 217.1h2v2.2h-2zM784 219.3h2v3.7h-2zM786 223h2v4h-2zM787 227h2v4.7h-2zM790 220h2v3.7h-2zM792 223.7h2v32.3h-2zM794 256h2v7.5h-2zM797 250.6h2v6.6h-2zM798 257.2h2v2.5h-2zM800 259.7h2v4.9h-2zM804 246.5h2v6h-2zM806 252.5h2v4.9h-2zM809 252.5h2v19.8h-2zM812 256.5h2v15.7h-2zM815 266.6h2v12.5h-2zM817 279.1h2v5.4h-2zM820 278.4h2v9h-2zM823 275.4h2v4.9h-2zM826 273.7h2v5.9h-2zM829 275.1h2v6.6h-2zM832 277.7h2v9.7h-2zM835 278.6h2v7.1h-2zM840 264.1h2v19.7h-2zM844 257.7h2v6.6h-2zM847 252.2h2v5.1h-2zM851 247.5h2v6h-2zM855 245.9h2v7h-2zM860 234.5h2v9.4h-2zM864 217h2v13.2h-2zM867 221.7h2v7h-2zM871 226h2v4.4h-2zM872 230.5h2v9.4h-2zM875 234.4h2v4.4h-2zM877 238.8h2v9.5h-2zM878 248.4h2v14.7h-2zM883 243.7h2v6.4h-2zM884 250.1h2v0.4h-2zM886 250.5h2v9.8h-2zM891 241.3h2v4.8h-2zM894 232.4h2v5.5h-2zM897 233.1h2v12.1h-2zM901 232.4h2v8.8h-2zM904 230.4h2v3.3h-2zM907 230.3h2v8.2h-2zM912 230.2h2v12.6h-2zM914 242.8h2v30.5h-2zM918 257.8h2v11.3h-2zM923 259.3h2v30.8h-2zM926 275.2h2v12.7h-2zM928 287.9h2v7.2h-2zM932 288.1h2v17.6h-2zM937 285.9h2v5.6h-2zM940 286.2h2v13.6h-2zM943 273.6h2v16.7h-2zM944 290.3h2v9.7h-2zM948 286.7h2v6.6h-2zM949 293.3h2v7.3h-2zM954 289.2h2v22.6h-2zM957 298.5h2v11.8h-2zM958 310.2h2v2.2h-2zM961 296h2v7.3h-2zM963 303.4h2v5.8h-2zM968 292.2h2v7h-2zM969 299.2h2v0.5h-2zM971 299.7h2v4.3h-2zM972 304h2v8.6h-2zM975 306h2v6.2h-2zM977 312.2h2v32.7h-2zM980 317.8h2v61h-2zM985 347.7h2v13.8h-2zM986 361.5h2v16.2h-2zM991 362.4h2v20h-2zM992 382.4h2v19.4h-2zM997 367.1h2v45.8h-2zM1003 380h2v5.8h-2zM1005 385.8h2v6.8h-2zM1008 375.1h2v6.5h-2zM1011 362.6h2v6.5h-2zM1012 369.1h2v6h-2zM1017 355.6h2v23.3h-2zM1021 358.2h2v18.8h-2zM1025 369.8h2v7.2h-2zM1026 377h2v2.8h-2zM1031 369.2h2v25.9h-2zM1032 395h2v16.7h-2zM1035 386.9h2v50.9h-2zM1042 389.3h2v16.9h-2zM1046 396.3h2v8.1h-2zM1048 404.4h2v7h-2zM1049 411.4h2v5.6h-2zM1051 417h2v8.7h-2zM1052 425.7h2v13.2h-2zM1054 438.9h2v0.7h-2zM1057 421.1h2v11.4h-2zM1058 432.5h2v15.4h-2zM1062 434.8h2v17h-2zM1065 445.6h2v7.4h-2zM1066 452.9h2v13.1h-2zM1071 435.4h2v8.4h-2zM1072 443.8h2v5.1h-2zM1078 424.2h2v0.5h-2zM1080 424.6h2v15.1h-2zM1086 402.3h2v21.5h-2zM1089 416.9h2v0.1h-2zM1091 416.9h2v16.8h-2zM1097 404.4h2v6.6h-2zM1099 411h2v14.1h-2zM1100 425h2v9.1h-2zM1105 418.1h2v9.4h-2zM1106 427.4h2v13h-2zM1108 440.5h2v20.5h-2zM1109 461h2v11.5h-2zM1114 453h2v11.7h-2zM1115 464.8h2v6.2h-2zM1117 471h2v27.6h-2zM1120 475.8h2v7.9h-2zM1122 487.4h2v10.8h-2zM1123 498.2h2v3.3h-2zM1126 498.9h2v1.9h-2zM1129 498.9h2v3.2h-2zM1134 479.8h2v22.9h-2zM1137 497.6h2v8.9h-2zM1139 506.5h2v6.4h-2zM1142 510.3h2v7h-2zM1143 517.3h2v15.2h-2zM1145 532.5h2v1.3h-2zM1146 533.8h2v50.2h-2zM1148 584h2v21.6h-2zM1159 505.9h2v15h-2z" fill="#d8222c"/>
<path d="M0 350C1.7 348.6 6.7 345.2 10 341.5C13.3 337.8 16.6 332 20 327.6C23.4 323.2 26.6 318.6 30.5 315.4C34.4 312.2 39.1 310.5 43.6 308.4C48.1 306.3 52.6 304.4 57.5 303C62.4 301.6 68.9 300.4 73 299.7C77.1 299 79.1 298.2 82 298.8C84.9 299.4 88 302 90.6 303C93.2 304 95.3 304.5 97.6 305C99.9 305.5 102 305 104.6 305.8C107.2 306.6 110.1 308.8 113 310C115.9 311.2 119.4 311.1 122 312.8C124.6 314.5 125.9 314.5 128.7 320C131.5 325.5 135.5 339.7 139 346C142.5 352.3 145.8 353.6 149.6 358C153.4 362.4 157.4 367 161.8 372.3C166.2 377.6 171.2 385.1 175.8 389.7C180.5 394.3 186.5 398.3 189.7 400.2C192.9 402.1 192.5 402.2 195 401C197.5 399.8 201.3 395.3 204.9 393.2C208.5 391.1 212.8 389.8 216.6 388.6C220.4 387.4 224.3 386.5 228 386C231.7 385.5 235 385.3 238.5 385.4C242 385.5 246 387.1 249 386.8C252 386.5 253.4 385.4 256.4 383.6C259.4 381.8 263.4 379 267 376C270.6 373 274.3 368.8 277.9 365.4C281.5 362 285.8 358.2 288.6 355.7C291.5 353.2 291.3 355.2 295 350.4C298.7 345.6 306.3 333.8 311 327C315.7 320.2 318.6 314 323.2 309.7C327.8 305.4 333.7 301.4 338.9 301C344.1 300.6 349.4 305.2 354.6 307C359.8 308.8 365.8 310.4 370 311.6C374.2 312.8 377 313.1 380 314.2C383 315.3 383.5 319.1 388 318.2C392.5 317.3 399.2 313.6 406.8 308.9C414.4 304.2 426 296.8 433.6 290.1C441.2 283.4 446.1 274.9 452.4 268.7C458.6 262.4 465.1 257.5 471.1 252.6C477.1 247.7 482.7 243.7 488.5 239.2C494.3 234.7 500.9 229.8 506 225.8C511.1 221.8 513.6 218.6 519.4 215C525.2 211.4 535 206.8 540.8 204.3C546.6 201.9 549.7 200.8 554.2 200.3C558.7 199.9 562.7 200.9 567.6 201.6C572.5 202.3 578.3 205 583.7 204.3C589.1 203.6 594.4 200.5 599.8 197.6C605.2 194.7 610.5 190.5 615.9 186.9C621.2 183.3 626.5 178 631.9 176.2C637.2 174.4 643.1 175.5 648 176.2C652.9 176.9 656 176.8 661.4 180.2C666.8 183.5 673.8 192.3 680.2 196.3C686.6 200.3 695.2 202.4 700 204.3C704.8 206.2 705 206.8 709 207.6C713 208.4 718.8 208.9 723.7 209C728.6 209.1 733.6 207.2 738.5 208.3C743.4 209.4 748.3 213.5 753.2 215.7C758.1 217.9 763.1 220.9 768 221.6C772.9 222.3 779 219.7 782.7 220C786.4 220.3 786.3 221.5 790 223.6C793.7 225.7 799.8 229.7 804.7 232.4C809.6 235.1 814.6 236.4 819.5 239.8C824.4 243.2 830 249.6 834.2 253C838.4 256.4 840.9 258.5 844.6 260.5C848.3 262.5 852.5 265 856.4 265C860.3 265 864 262 868.2 260.5C872.4 259 877.2 258 881.4 256C885.6 254 888.8 250.9 893.2 248.7C897.6 246.5 904.8 244 908 242.8C911.2 241.6 910.5 241.5 912.4 241.4C914.3 241.3 916.8 241.3 919.4 242.3C922 243.3 925.2 245.2 928.1 247.5C931 249.8 933.9 253.3 936.8 256.2C939.7 259.1 942.6 262.3 945.5 264.9C948.4 267.5 951.4 269.7 954.2 271.9C957 274.1 958.2 274.2 962.2 277.9C966.2 281.6 974.2 289.4 978.2 294C982.2 298.6 982.8 300 986.3 305.2C989.8 310.4 993.9 317.7 999 325C1004.1 332.3 1011.8 342.6 1017 348.8C1022.2 355 1025.9 356.6 1030.4 362.2C1034.9 367.8 1039.3 377.5 1043.8 382.6C1048.3 387.7 1052.7 389.3 1057.2 393C1061.7 396.7 1066.1 401 1070.6 405C1075.1 409 1079.5 413.5 1084 417.1C1088.5 420.7 1092.9 423.4 1097.4 426.5C1101.9 429.6 1106.3 432.7 1110.8 435.8C1115.3 438.9 1120.2 442.7 1124.2 445.2C1128.2 447.7 1131.8 448.4 1134.9 450.6C1138 452.8 1140.2 454.6 1142.9 458.6C1145.6 462.6 1148.3 468.9 1151 474.7C1153.7 480.5 1157.7 490.3 1159 493.4" stroke="#55d155" stroke-width="1.3" fill="none" stroke-linejoin="round"/>
<path d="M0 359C5.8 359 23.3 360.2 35 359C46.7 357.8 58.4 354 70 352C81.6 350 96.3 347.8 104.6 346.8C112.9 345.8 114.5 346 120 346C125.5 346 131.6 347.3 137.4 347C143.2 346.7 147.6 345.2 154.9 344.4C162.2 343.6 173.8 342.4 181 342.3C188.2 342.2 191.1 343.1 198.4 343.5C205.7 343.9 218.5 344 224.6 344.4C230.7 344.8 230.8 345.1 235 346C239.2 346.9 246.4 349.1 250 350C253.6 350.9 252.6 350.8 256.4 351.4C260.1 352 267.1 353 272.5 353.6C277.9 354.2 280.2 355.2 288.6 355.2C297 355.1 312 353.2 323 353.3C334 353.4 346.8 355.6 354.6 356C362.4 356.4 365.3 355.8 370 355.7C374.7 355.6 379.9 355.6 383 355.3C386.1 355 386.3 355.3 388.8 353.8C391.3 352.3 394.1 348.6 398 346.3C401.9 344 403.6 344 412.2 340C420.8 336 437.2 328.8 449.7 322.3C462.2 315.8 476.5 307.5 487.2 300.8C497.9 294.1 505.1 287.8 514 282C522.9 276.2 531.9 270.5 540.8 266C549.7 261.5 560.5 257.9 567.6 255.2C574.8 252.5 577 253 583.7 249.9C590.4 246.8 599.3 241.4 607.8 236.5C616.3 231.6 625.7 224.7 634.6 220.4C643.5 216.2 652.5 213.9 661.4 211C670.3 208.1 682.7 204.4 688.2 203C693.7 201.6 690.7 202.7 694.2 202.4C697.7 202.1 704.1 201.5 709 201C713.9 200.5 718.8 200 723.7 199.5C728.6 199 733.6 198.1 738.5 198C743.4 197.9 748.3 198.3 753.2 198.8C758.1 199.3 763.1 200.3 768 201C772.9 201.7 777.4 202.5 782.7 203.2C788 203.9 795.1 204.7 800 205.4C804.9 206.1 807.5 206.3 812 207.4C816.5 208.5 822 210.3 826.9 211.8C831.8 213.3 836.7 214.8 841.6 216.2C846.5 217.6 851.5 218.7 856.4 220C861.3 221.3 864.9 222.5 871 224.3C877.1 226.1 885.8 229.4 893.2 231C900.6 232.6 909.3 232.9 915.4 234C921.5 235.1 924.9 236.3 930 237.7C935.1 239.1 940.7 240.6 946.1 242.5C951.5 244.4 957.1 246.9 962.2 248.9C967.3 250.9 972.6 252.7 976.6 254.6C980.6 256.5 982 257.4 986.3 260.2C990.6 263 997 268.3 1002.4 271.5C1007.8 274.7 1014.5 277.5 1018.5 279.5C1022.5 281.5 1022.5 280.8 1026.5 283.5C1030.5 286.2 1037.2 291.7 1042.6 295.6C1048 299.5 1053.3 303.1 1058.7 306.8C1064.1 310.6 1069.4 314.9 1074.7 318.1C1080 321.3 1085.9 323.3 1090.8 326.1C1095.7 328.9 1099.6 331.3 1104.3 335C1109 338.7 1114.1 343.8 1119 348.3C1123.9 352.9 1129.6 358.2 1133.8 362.3C1138 366.4 1141 369.2 1144 372.6C1147 376.1 1148.9 379.9 1151.5 383C1154.1 386.1 1158.2 390.1 1159.6 391.5" stroke="#f4554d" stroke-width="1.3" fill="none" stroke-linejoin="round"/>
</g>
<g stroke="#878787" stroke-width="1.2" fill="none">
<path d="M1333.5 69V724.6" stroke-width="1"/><path d="M0 724.2H1334" stroke-width="1.3"/>
<path d="M1334 121.5h2.5M1334 185.5h2.5M1334 248.5h2.5M1334 312.5h2.5M1334 375.5h2.5M1334 439.5h2.5M1334 502.5h2.5M1334 566.5h2.5M1334 629.5h2.5M1334 693.5h2.5"/>
<path d="M46 724V729M113.4 724V729M215.3 724V729M317.6 724V729M451.6 724V729M515.7 724V729M616.4 724V729M718.6 724V729M853.5 724V729M918.6 724V729M1020 724V729M1122.6 724V729M1273 724V729"/>
</g>
<g font-size="9.4" fill="#454545">
<text x="1339" y="123.8">1.45</text><text x="1339" y="187.8">1.4</text><text x="1339" y="250.8">1.35</text>
<text x="1339" y="314.8">1.3</text><text x="1339" y="377.8">1.25</text><text x="1339" y="441.8">1.2</text>
<text x="1339" y="504.8">1.15</text><text x="1339" y="568.8">1.1</text><text x="1339" y="631.8">1.05</text><text x="1339" y="695.8">1</text>
</g>
<g font-size="12" fill="#555" text-anchor="middle">
<text x="46.2" y="738.8">2020</text><text x="113.3" y="738.8">Mar</text><text x="215.1" y="738.8">Jun</text>
<text x="317.7" y="738.8">Sept</text><text x="451.5" y="738.8">2021</text><text x="515.8" y="738.8">Mar</text>
<text x="615.9" y="738.8">Jun</text><text x="718.8" y="738.8">Sept</text><text x="853.2" y="738.8">2022</text>
<text x="918.6" y="738.8">Mar</text><text x="1019.8" y="738.8">Jun</text><text x="1122.8" y="738.8">Sept</text>
<text x="1273.4" y="738.8">2023</text>
</g>
<!-- price tags -->
<path d="M1334 391.3L1342.3 384H1382.2Q1384.2 384 1384.2 386V396.6Q1384.2 398.6 1382.2 398.6H1342.3Z" fill="#f23f35"/>
<text x="1381.5" y="394.7" font-size="9.3" fill="#1a1a1a" text-anchor="end">1.23698</text>
<path d="M1334 494.4L1342.4 487H1382.2Q1384.2 487 1384.2 489V499.8Q1384.2 501.8 1382.2 501.8H1342.4Z" fill="#2ec83c"/>
<text x="1381.5" y="497.8" font-size="9.3" fill="#1a1a1a" text-anchor="end">1.15601</text>
<path d="M1334 520.2L1342.4 512.9H1382.2Q1384.2 512.9 1384.2 514.9V525.6Q1384.2 527.6 1382.2 527.6H1342.4Z" fill="#5d5ab0"/>
<text x="1381.5" y="523.7" font-size="9.3" fill="#fff" font-weight="bold" text-anchor="end">1.13576</text>
<!-- MA legend -->
<rect x="0" y="656.5" width="100" height="22.3" fill="#fff"/>
<text x="2.8" y="672" font-size="9.4" font-weight="bold" fill="#1a1a1a" letter-spacing="0.6">MA</text>
<text x="21.2" y="672" font-size="9.6" fill="#2c82e0">20</text>
<text x="34.8" y="672" font-size="9.6" fill="#38c040">50</text>
<text x="48.8" y="672" font-size="9.6" fill="#ff4040">200</text>
<g transform="translate(75.4 668.6)" fill="#8a8a8a">
<circle r="3.6"/><g stroke="#8a8a8a" stroke-width="2.2"><path d="M0 -5.4V5.4M-5.4 0H5.4M-3.8 -3.8L3.8 3.8M-3.8 3.8L3.8 -3.8"/></g><circle r="1.5" fill="#fff"/></g>
<path d="M87.8 665.4L94.8 672.4M94.8 665.4L87.8 672.4" stroke="#8a8a8a" stroke-width="2.2"/>
<!-- annotations -->
<g stroke="#000" stroke-linecap="round" fill="none">
<path d="M492.6 152.3L717.3 151.5" stroke-width="5.2"/>
<path d="M120.8 504.9L1240.9 503.2" stroke-width="5.7"/>
<path d="M1125.5 691H1223" stroke-width="5.8"/>
</g>
<defs><filter id="sh" x="-50%" y="-50%" width="200%" height="200%"><feDropShadow dx="1.6" dy="2.4" stdDeviation="1.3" flood-color="#000" flood-opacity="0.45"/></filter></defs>
<path d="M1095.6 500L1099.2 500L1130.5 630.3L1140.3 628.4L1131.8 657L1111.2 635.3L1119.2 633Z" fill="#ff0a0a"/>
<path d="M1159.2 665.6L1161.8 665.6L1204.3 531.2L1210.8 536L1203.6 508.3L1182.6 528.8L1188.6 527.6Z" fill="#1ee01e"/>
<g filter="url(#sh)" fill="#000">
<path d="M1229 488.3L1230.6 488.3L1236.8 459.8L1241.1 460.5L1234.1 446.1L1224.6 458.8L1231.2 459Z"/>
<path d="M1229.8 518.6L1232.4 518.6L1244.2 549.6L1248.9 547L1246 564.9L1232 553.9L1236.7 552.2Z"/>
</g>
<g font-size="26.5" font-weight="bold" fill="#000" style="text-shadow:1.2px 1.2px 0 #fff,-1.2px -1.2px 0 #fff,1.2px -1.2px 0 #fff,-1.2px 1.2px 0 #fff,0 1.7px 0 #fff,1.7px 0 0 #fff,0 -1.7px 0 #fff,-1.7px 0 0 #fff,2.5px 3px 3px rgba(0,0,0,.6)">
<text x="732.3" y="162.8" letter-spacing="0.15">1.425</text>
<text x="1264.3" y="515.3" letter-spacing="0.8">1.15</text>
<text x="1243.4" y="700" font-size="25" letter-spacing="0.7">Parity</text>
</g>
<path d="M281.9 55.6V45.6Q281.9 44.8 282.7 44.8H286.3L287.8 47.3H291.5V49" stroke="#666" stroke-width="1" fill="none"/>
<path d="M286.5 49.4H294.8L291.7 55.9H282.7Z" fill="#333"/>
<rect x="310.1" y="43.8" width="13.7" height="13.9" rx="2.2" fill="#333"/>
<rect x="313.5" y="44.7" width="6.5" height="3.6" fill="#fff"/>
<rect x="317.6" y="45.6" width="1.3" height="1.4" fill="#333"/>
<rect x="312" y="50.5" width="9.8" height="5.5" rx="0.8" fill="#fff"/>
</svg>
</body></html>
